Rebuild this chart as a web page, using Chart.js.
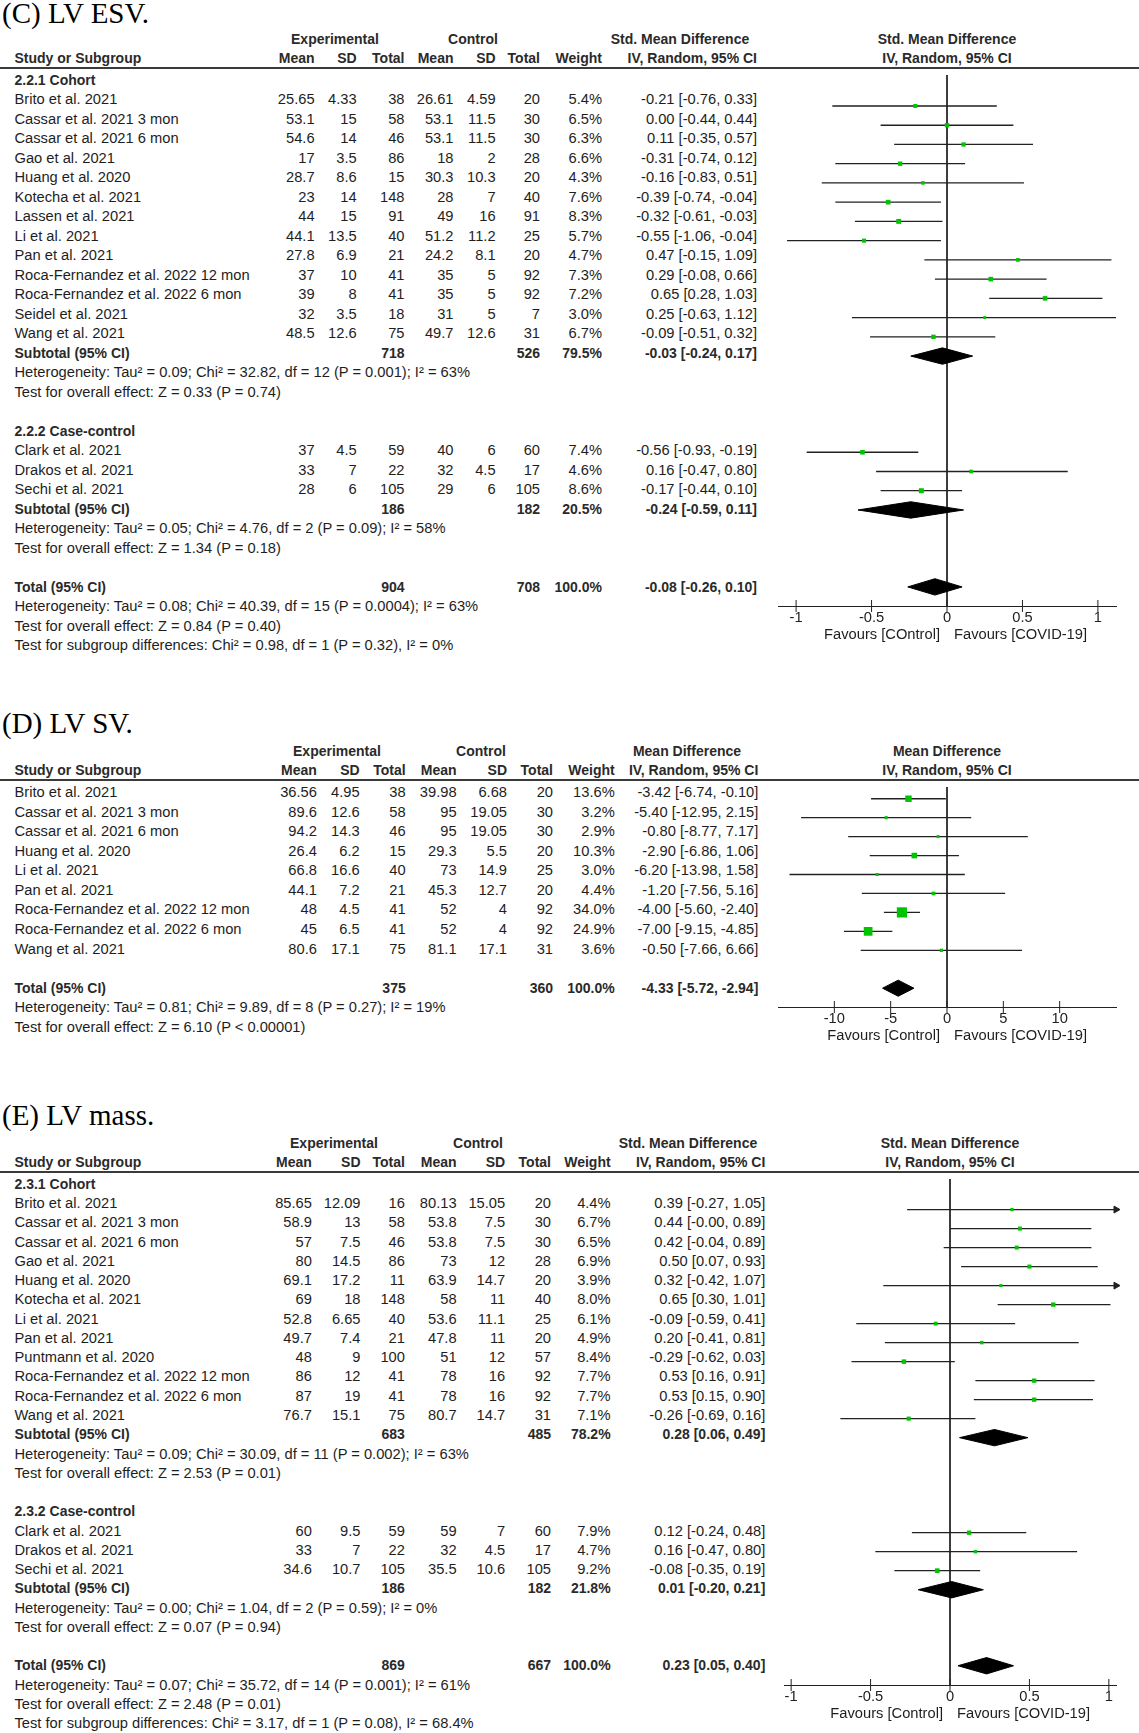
<!DOCTYPE html>
<html>
<head>
<meta charset="utf-8">
<script src="https://cdn.jsdelivr.net/npm/chart.js@4.4.1/dist/chart.umd.min.js"></script>
<style>
  body { margin: 0; background: #fff; }
  #page { position: relative; width: 1139px; height: 1733px; overflow: hidden; background: #fff; }
  .t { position: absolute; white-space: nowrap; font-family: "Liberation Sans", Arial, sans-serif;
       font-size: 14.7px; line-height: 20px; color: #1e1e1e; }
  .b { font-weight: bold; font-size: 14px; color: #2a2a2a; }
  .title { position: absolute; left: 2px; white-space: nowrap; font-family: "Liberation Serif", "Times New Roman", serif;
           font-size: 29px; line-height: 29px; color: #000; }
  .rule { position: absolute; left: 0; width: 1139px; height: 2px; background: #3a3a3a; }
  canvas { position: absolute; }
</style>
</head>
<body>
<div id="page"></div>
<script>
"use strict"

//////////////     (C) LV ESV     //////////////

const esvTitle = "(C) LV ESV.";
const esvMeasure = "Std. Mean Difference";
const esvGroups = ["2.2.1 Cohort", "2.2.2 Case-control"];
const esvStudies = ["Brito et al. 2021", "Cassar et al. 2021 3 mon", "Cassar et al. 2021 6 mon", "Gao et al. 2021",
  "Huang et al. 2020", "Kotecha et al. 2021", "Lassen et al. 2021", "Li et al. 2021", "Pan et al. 2021",
  "Roca-Fernandez et al. 2022 12 mon", "Roca-Fernandez et al. 2022 6 mon", "Seidel et al. 2021", "Wang et al. 2021",
  "Clark et al. 2021", "Drakos et al. 2021", "Sechi et al. 2021"];
const esvGroupOf = [0, 0, 0, 0, 0, 0, 0, 0, 0, 0, 0, 0, 0, 1, 1, 1];
const esvExpMean = [25.65, 53.1, 54.6, 17, 28.7, 23, 44, 44.1, 27.8, 37, 39, 32, 48.5, 37, 33, 28];
const esvExpSD = [4.33, 15, 14, 3.5, 8.6, 14, 15, 13.5, 6.9, 10, 8, 3.5, 12.6, 4.5, 7, 6];
const esvExpN = [38, 58, 46, 86, 15, 148, 91, 40, 21, 41, 41, 18, 75, 59, 22, 105];
const esvCtlMean = [26.61, 53.1, 53.1, 18, 30.3, 28, 49, 51.2, 24.2, 35, 35, 31, 49.7, 40, 32, 29];
const esvCtlSD = [4.59, 11.5, 11.5, 2, 10.3, 7, 16, 11.2, 8.1, 5, 5, 5, 12.6, 6, 4.5, 6];
const esvCtlN = [20, 30, 30, 28, 20, 40, 91, 25, 20, 92, 92, 7, 31, 60, 17, 105];
const esvWeight = [5.4, 6.5, 6.3, 6.6, 4.3, 7.6, 8.3, 5.7, 4.7, 7.3, 7.2, 3.0, 6.7, 7.4, 4.6, 8.6];
const esvEst = [-0.21, 0.00, 0.11, -0.31, -0.16, -0.39, -0.32, -0.55, 0.47, 0.29, 0.65, 0.25, -0.09, -0.56, 0.16, -0.17];
const esvLo = [-0.76, -0.44, -0.35, -0.74, -0.83, -0.74, -0.61, -1.06, -0.15, -0.08, 0.28, -0.63, -0.51, -0.93, -0.47, -0.44];
const esvHi = [0.33, 0.44, 0.57, 0.12, 0.51, -0.04, -0.03, -0.04, 1.09, 0.66, 1.03, 1.12, 0.32, -0.19, 0.80, 0.10];
const esvSubExpN = [718, 186];
const esvSubCtlN = [526, 182];
const esvSubWeight = [79.5, 20.5];
const esvSubEst = [-0.03, -0.24];
const esvSubLo = [-0.24, -0.59];
const esvSubHi = [0.17, 0.11];
const esvSubNotes = [
  ["Heterogeneity: Tau² = 0.09; Chi² = 32.82, df = 12 (P = 0.001); I² = 63%", "Test for overall effect: Z = 0.33 (P = 0.74)"],
  ["Heterogeneity: Tau² = 0.05; Chi² = 4.76, df = 2 (P = 0.09); I² = 58%", "Test for overall effect: Z = 1.34 (P = 0.18)"]
];
const esvTotN = [904, 708];
const esvTotEffect = [-0.08, -0.26, 0.10];
const esvTotNotes = ["Heterogeneity: Tau² = 0.08; Chi² = 40.39, df = 15 (P = 0.0004); I² = 63%",
  "Test for overall effect: Z = 0.84 (P = 0.40)",
  "Test for subgroup differences: Chi² = 0.98, df = 1 (P = 0.32), I² = 0%"];
const esvTicks = [-1, -0.5, 0, 0.5, 1];
const esvFavours = ["Favours [COntrol]", "Favours [COVID-19]"];

//////////////     (D) LV SV     //////////////

const svTitle = "(D) LV SV.";
const svMeasure = "Mean Difference";
const svGroups = [];
const svStudies = ["Brito et al. 2021", "Cassar et al. 2021 3 mon", "Cassar et al. 2021 6 mon", "Huang et al. 2020",
  "Li et al. 2021", "Pan et al. 2021", "Roca-Fernandez et al. 2022 12 mon", "Roca-Fernandez et al. 2022 6 mon",
  "Wang et al. 2021"];
const svGroupOf = [0, 0, 0, 0, 0, 0, 0, 0, 0];
const svExpMean = [36.56, 89.6, 94.2, 26.4, 66.8, 44.1, 48, 45, 80.6];
const svExpSD = [4.95, 12.6, 14.3, 6.2, 16.6, 7.2, 4.5, 6.5, 17.1];
const svExpN = [38, 58, 46, 15, 40, 21, 41, 41, 75];
const svCtlMean = [39.98, 95, 95, 29.3, 73, 45.3, 52, 52, 81.1];
const svCtlSD = [6.68, 19.05, 19.05, 5.5, 14.9, 12.7, 4, 4, 17.1];
const svCtlN = [20, 30, 30, 20, 25, 20, 92, 92, 31];
const svWeight = [13.6, 3.2, 2.9, 10.3, 3.0, 4.4, 34.0, 24.9, 3.6];
const svEst = [-3.42, -5.40, -0.80, -2.90, -6.20, -1.20, -4.00, -7.00, -0.50];
const svLo = [-6.74, -12.95, -8.77, -6.86, -13.98, -7.56, -5.60, -9.15, -7.66];
const svHi = [-0.10, 2.15, 7.17, 1.06, 1.58, 5.16, -2.40, -4.85, 6.66];
const svTotN = [375, 360];
const svTotEffect = [-4.33, -5.72, -2.94];
const svTotNotes = ["Heterogeneity: Tau² = 0.81; Chi² = 9.89, df = 8 (P = 0.27); I² = 19%",
  "Test for overall effect: Z = 6.10 (P < 0.00001)"];
const svTicks = [-10, -5, 0, 5, 10];
const svFavours = ["Favours [Control]", "Favours [COVID-19]"];

//////////////     (E) LV mass     //////////////

const massTitle = "(E) LV mass.";
const massMeasure = "Std. Mean Difference";
const massGroups = ["2.3.1 Cohort", "2.3.2 Case-control"];
const massStudies = ["Brito et al. 2021", "Cassar et al. 2021 3 mon", "Cassar et al. 2021 6 mon", "Gao et al. 2021",
  "Huang et al. 2020", "Kotecha et al. 2021", "Li et al. 2021", "Pan et al. 2021", "Puntmann et al. 2020",
  "Roca-Fernandez et al. 2022 12 mon", "Roca-Fernandez et al. 2022 6 mon", "Wang et al. 2021",
  "Clark et al. 2021", "Drakos et al. 2021", "Sechi et al. 2021"];
const massGroupOf = [0, 0, 0, 0, 0, 0, 0, 0, 0, 0, 0, 0, 1, 1, 1];
const massExpMean = [85.65, 58.9, 57, 80, 69.1, 69, 52.8, 49.7, 48, 86, 87, 76.7, 60, 33, 34.6];
const massExpSD = [12.09, 13, 7.5, 14.5, 17.2, 18, 6.65, 7.4, 9, 12, 19, 15.1, 9.5, 7, 10.7];
const massExpN = [16, 58, 46, 86, 11, 148, 40, 21, 100, 41, 41, 75, 59, 22, 105];
const massCtlMean = [80.13, 53.8, 53.8, 73, 63.9, 58, 53.6, 47.8, 51, 78, 78, 80.7, 59, 32, 35.5];
const massCtlSD = [15.05, 7.5, 7.5, 12, 14.7, 11, 11.1, 11, 12, 16, 16, 14.7, 7, 4.5, 10.6];
const massCtlN = [20, 30, 30, 28, 20, 40, 25, 20, 57, 92, 92, 31, 60, 17, 105];
const massWeight = [4.4, 6.7, 6.5, 6.9, 3.9, 8.0, 6.1, 4.9, 8.4, 7.7, 7.7, 7.1, 7.9, 4.7, 9.2];
const massEst = [0.39, 0.44, 0.42, 0.50, 0.32, 0.65, -0.09, 0.20, -0.29, 0.53, 0.53, -0.26, 0.12, 0.16, -0.08];
const massLo = [-0.27, -0.00, -0.04, 0.07, -0.42, 0.30, -0.59, -0.41, -0.62, 0.16, 0.15, -0.69, -0.24, -0.47, -0.35];
const massHi = [1.05, 0.89, 0.89, 0.93, 1.07, 1.01, 0.41, 0.81, 0.03, 0.91, 0.90, 0.16, 0.48, 0.80, 0.19];
const massSubExpN = [683, 186];
const massSubCtlN = [485, 182];
const massSubWeight = [78.2, 21.8];
const massSubEst = [0.28, 0.01];
const massSubLo = [0.06, -0.20];
const massSubHi = [0.49, 0.21];
const massSubNotes = [
  ["Heterogeneity: Tau² = 0.09; Chi² = 30.09, df = 11 (P = 0.002); I² = 63%", "Test for overall effect: Z = 2.53 (P = 0.01)"],
  ["Heterogeneity: Tau² = 0.00; Chi² = 1.04, df = 2 (P = 0.59); I² = 0%", "Test for overall effect: Z = 0.07 (P = 0.94)"]
];
const massTotN = [869, 667];
const massTotEffect = [0.23, 0.05, 0.40];
const massTotNotes = ["Heterogeneity: Tau² = 0.07; Chi² = 35.72, df = 14 (P = 0.001); I² = 61%",
  "Test for overall effect: Z = 2.48 (P = 0.01)",
  "Test for subgroup differences: Chi² = 3.17, df = 1 (P = 0.08), I² = 68.4%"];
const massTicks = [-1, -0.5, 0, 0.5, 1];
const massFavours = ["Favours [Control]", "Favours [COVID-19]"];

//////////////     Layout (pixels)     //////////////

const PAGE_W = 1139;
const AXIS_H = 30;
const NAME_X = 14.5;

const esvLayout = { row0: 99.4, step: 19.49, cols: [314.6, 356.7, 404.5, 453.5, 495.6, 540, 602, 757],
  expC: 335, ctlC: 473, effC: 680, plotL: 771, plotR: 1123, xMin: -1.12, xMax: 1.12, k: 1.7, titleDy: 2 };
const svLayout = { row0: 792.1, step: 19.55, cols: [316.9, 359.7, 405.7, 456.6, 507, 553, 614.7, 758.3],
  expC: 337, ctlC: 481, effC: 687, plotL: 771, plotR: 1123, xMin: -15, xMax: 15, k: 1.75, titleDy: 0 };
const massLayout = { row0: 1203, step: 19.27, cols: [311.9, 360.5, 404.9, 456.6, 505.2, 551, 610.6, 765.3],
  expC: 334, ctlC: 478, effC: 688, plotL: 777, plotR: 1123, xMin: -1.045, xMax: 1.045, k: 1.55, titleDy: 0 };

const panels = [
  { title: esvTitle, measure: esvMeasure, groups: esvGroups, studies: esvStudies, groupOf: esvGroupOf,
    expMean: esvExpMean, expSD: esvExpSD, expN: esvExpN, ctlMean: esvCtlMean, ctlSD: esvCtlSD, ctlN: esvCtlN,
    weight: esvWeight, est: esvEst, lo: esvLo, hi: esvHi,
    subExpN: esvSubExpN, subCtlN: esvSubCtlN, subWeight: esvSubWeight, subEst: esvSubEst, subLo: esvSubLo,
    subHi: esvSubHi, subNotes: esvSubNotes, totN: esvTotN, totEffect: esvTotEffect, totNotes: esvTotNotes,
    ticks: esvTicks, favours: esvFavours, layout: esvLayout },
  { title: svTitle, measure: svMeasure, groups: svGroups, studies: svStudies, groupOf: svGroupOf,
    expMean: svExpMean, expSD: svExpSD, expN: svExpN, ctlMean: svCtlMean, ctlSD: svCtlSD, ctlN: svCtlN,
    weight: svWeight, est: svEst, lo: svLo, hi: svHi,
    totN: svTotN, totEffect: svTotEffect, totNotes: svTotNotes,
    ticks: svTicks, favours: svFavours, layout: svLayout },
  { title: massTitle, measure: massMeasure, groups: massGroups, studies: massStudies, groupOf: massGroupOf,
    expMean: massExpMean, expSD: massExpSD, expN: massExpN, ctlMean: massCtlMean, ctlSD: massCtlSD, ctlN: massCtlN,
    weight: massWeight, est: massEst, lo: massLo, hi: massHi,
    subExpN: massSubExpN, subCtlN: massSubCtlN, subWeight: massSubWeight, subEst: massSubEst, subLo: massSubLo,
    subHi: massSubHi, subNotes: massSubNotes, totN: massTotN, totEffect: massTotEffect, totNotes: massTotNotes,
    ticks: massTicks, favours: massFavours, layout: massLayout }
];

//////////////     Text helpers     //////////////

const page = document.getElementById('page');

function put(text, x, y, align, bold) {
  const el = document.createElement('div');
  el.className = bold ? 't b' : 't';
  el.textContent = text;
  el.style.top = (y - 10) + 'px';
  if (align === 'r') {
    el.style.right = (PAGE_W - x) + 'px';
  } else {
    el.style.left = x + 'px';
  }
  if (align === 'c') el.style.transform = 'translateX(-50%)';
  page.appendChild(el);
}

function fmt2(v) {
  return (Object.is(v, -0) ? '-' : '') + v.toFixed(2);
}

function ciText(e, l, h) {
  return `${fmt2(e)} [${fmt2(l)}, ${fmt2(h)}]`;
}

function buildRows(p) {
  const rows = [];
  let r = p.groups.length ? -1 : 0;
  const nGroups = Math.max(p.groups.length, 1);
  for (let g = 0; g < nGroups; g++) {
    if (p.groups.length) rows.push({ r: r++, kind: 'group', g: g });
    p.studies.forEach((s, i) => {
      if (p.groupOf[i] === g) rows.push({ r: r++, kind: 'study', i: i });
    });
    if (p.groups.length) {
      rows.push({ r: r++, kind: 'sub', g: g });
      p.subNotes[g].forEach(t => rows.push({ r: r++, kind: 'note', text: t }));
    }
    r++;
  }
  rows.push({ r: r++, kind: 'total' });
  p.totNotes.forEach(t => rows.push({ r: r++, kind: 'note', text: t }));
  return rows;
}

//////////////     Panels     //////////////

function renderPanel(p) {
  const L = p.layout;
  const c = L.cols;
  const rowY = r => L.row0 + r * L.step;
  const rows = buildRows(p);
  const first = rows[0].r;
  const plotC = (L.plotL + L.plotR) / 2;

  // title + headers
  const title = document.createElement('div');
  title.className = 'title';
  title.textContent = p.title;
  title.style.top = (rowY(first - 2.1) - 18 - 24.3 + L.titleDy) + 'px';
  page.appendChild(title);

  const h1 = rowY(first - 2.1), h2 = rowY(first - 1.12);
  put("Experimental", L.expC, h1, 'c', true);
  put("Control", L.ctlC, h1, 'c', true);
  put(p.measure, L.effC, h1, 'c', true);
  put(p.measure, plotC, h1, 'c', true);
  put("Study or Subgroup", NAME_X, h2, 'l', true);
  ["Mean", "SD", "Total", "Mean", "SD", "Total", "Weight", "IV, Random, 95% CI"]
    .forEach((t, j) => put(t, c[j], h2, 'r', true));
  put("IV, Random, 95% CI", plotC, h2, 'c', true);

  const lineY = Math.round(rowY(first - 0.62));
  const rule = document.createElement('div');
  rule.className = 'rule';
  rule.style.top = (lineY - 1) + 'px';
  page.appendChild(rule);

  // table rows
  rows.forEach(o => {
    const y = rowY(o.r);
    if (o.kind === 'group') {
      put(p.groups[o.g], NAME_X, y, 'l', true);
    } else if (o.kind === 'study') {
      const i = o.i;
      put(p.studies[i], NAME_X, y, 'l');
      [p.expMean[i], p.expSD[i], p.expN[i], p.ctlMean[i], p.ctlSD[i], p.ctlN[i]]
        .forEach((v, j) => put(String(v), c[j], y, 'r'));
      put(p.weight[i].toFixed(1) + '%', c[6], y, 'r');
      put(ciText(p.est[i], p.lo[i], p.hi[i]), c[7], y, 'r');
    } else if (o.kind === 'sub') {
      const g = o.g;
      put("Subtotal (95% CI)", NAME_X, y, 'l', true);
      put(String(p.subExpN[g]), c[2], y, 'r', true);
      put(String(p.subCtlN[g]), c[5], y, 'r', true);
      put(p.subWeight[g].toFixed(1) + '%', c[6], y, 'r', true);
      put(ciText(p.subEst[g], p.subLo[g], p.subHi[g]), c[7], y, 'r', true);
    } else if (o.kind === 'total') {
      put("Total (95% CI)", NAME_X, y, 'l', true);
      put(String(p.totN[0]), c[2], y, 'r', true);
      put(String(p.totN[1]), c[5], y, 'r', true);
      put("100.0%", c[6], y, 'r', true);
      put(ciText(p.totEffect[0], p.totEffect[1], p.totEffect[2]), c[7], y, 'r', true);
    } else {
      put(o.text, NAME_X, y, 'l');
    }
  });

  // forest plot
  const totalRow = rows.find(o => o.kind === 'total').r;
  const axisRow = totalRow + 1;
  const axisY = Math.round(rowY(axisRow));
  const w = L.plotR - L.plotL;
  const h = axisY - lineY + AXIS_H;
  const canvas = document.createElement('canvas');
  canvas.width = w;
  canvas.height = h;
  canvas.style.left = L.plotL + 'px';
  canvas.style.top = lineY + 'px';
  canvas.style.width = w + 'px';
  canvas.style.height = h + 'px';
  page.appendChild(canvas);

  const yMin = (lineY - L.row0) / L.step;
  const yMax = (axisY - L.row0) / L.step;
  const zeroX = L.plotL + (0 - L.xMin) / (L.xMax - L.xMin) * w;
  put(p.favours[0], zeroX - 7, axisY + 28, 'r');
  put(p.favours[1], zeroX + 7, axisY + 28, 'l');

  const studyRows = rows.filter(o => o.kind === 'study');
  const squares = studyRows.map(o => ({ x: p.est[o.i], y: o.r }));
  const squareR = studyRows.map(o => L.k * Math.sqrt(p.weight[o.i]) / (2 * Math.SQRT1_2));
  const ciLines = [];
  studyRows.forEach(o => {
    ciLines.push({ x: p.lo[o.i], y: o.r }, { x: p.hi[o.i], y: o.r }, { x: p.hi[o.i], y: null });
  });
  const arrows = studyRows.filter(o => p.hi[o.i] > L.xMax).map(o => ({ x: L.xMax, y: o.r }));

  const dh = 8.3 / L.step;
  const diamond = (e, lo, hi, r) => [{ x: lo, y: r }, { x: e, y: r - dh }, { x: hi, y: r }, { x: e, y: r + dh }, { x: lo, y: r }];
  const diamonds = [];
  rows.filter(o => o.kind === 'sub').forEach(o => diamonds.push(diamond(p.subEst[o.g], p.subLo[o.g], p.subHi[o.g], o.r)));
  diamonds.push(diamond(p.totEffect[0], p.totEffect[1], p.totEffect[2], totalRow));

  const datasets = [
    { data: squares, showLine: false, pointStyle: 'rect', pointRadius: squareR, pointBackgroundColor: '#00c400',
      pointBorderWidth: 0, order: 0 },
    { data: arrows, showLine: false, pointStyle: 'triangle', pointRotation: 90, pointRadius: 4,
      pointBackgroundColor: '#222', pointBorderColor: '#222', pointBorderWidth: 1, clip: false, order: 1 },
    { data: p.ticks.map(v => ({ x: v, y: yMax })), showLine: false, pointStyle: 'line', pointRotation: 90,
      pointRadius: 6, pointBorderColor: '#222', pointBorderWidth: 1, clip: false, order: 2 },
    { data: ciLines, showLine: true, spanGaps: false, borderColor: '#222', borderWidth: 1.3, pointRadius: 0, order: 4 },
    { data: [{ x: 0, y: yMin }, { x: 0, y: yMax }], showLine: true, borderColor: '#222', borderWidth: 1,
      pointRadius: 0, order: 5 }
  ];
  diamonds.forEach(d => datasets.push({ data: d, showLine: true, fill: 'shape', backgroundColor: '#000',
    borderColor: '#000', borderWidth: 1, pointRadius: 0, tension: 0, order: 3 }));

  new Chart(canvas, {
    type: 'line',
    data: { datasets: datasets },
    options: {
      responsive: false,
      animation: false,
      events: [],
      layout: { padding: 0 },
      plugins: { legend: { display: false }, tooltip: { enabled: false } },
      scales: {
        x: {
          type: 'linear', position: 'bottom', min: L.xMin, max: L.xMax,
          border: { display: true, color: '#222', width: 1 },
          grid: { display: true, drawOnChartArea: false, drawTicks: false },
          ticks: { color: '#222', padding: 3, font: { family: '"Liberation Sans", Arial, sans-serif', size: 14.7 },
            callback: v => String(v) },
          afterBuildTicks: s => { s.ticks = p.ticks.map(v => ({ value: v })); },
          afterFit: s => { s.height = AXIS_H; }
        },
        y: { type: 'linear', reverse: true, min: yMin, max: yMax, display: false }
      }
    }
  });
}

panels.forEach(renderPanel);
</script>
</body>
</html>
